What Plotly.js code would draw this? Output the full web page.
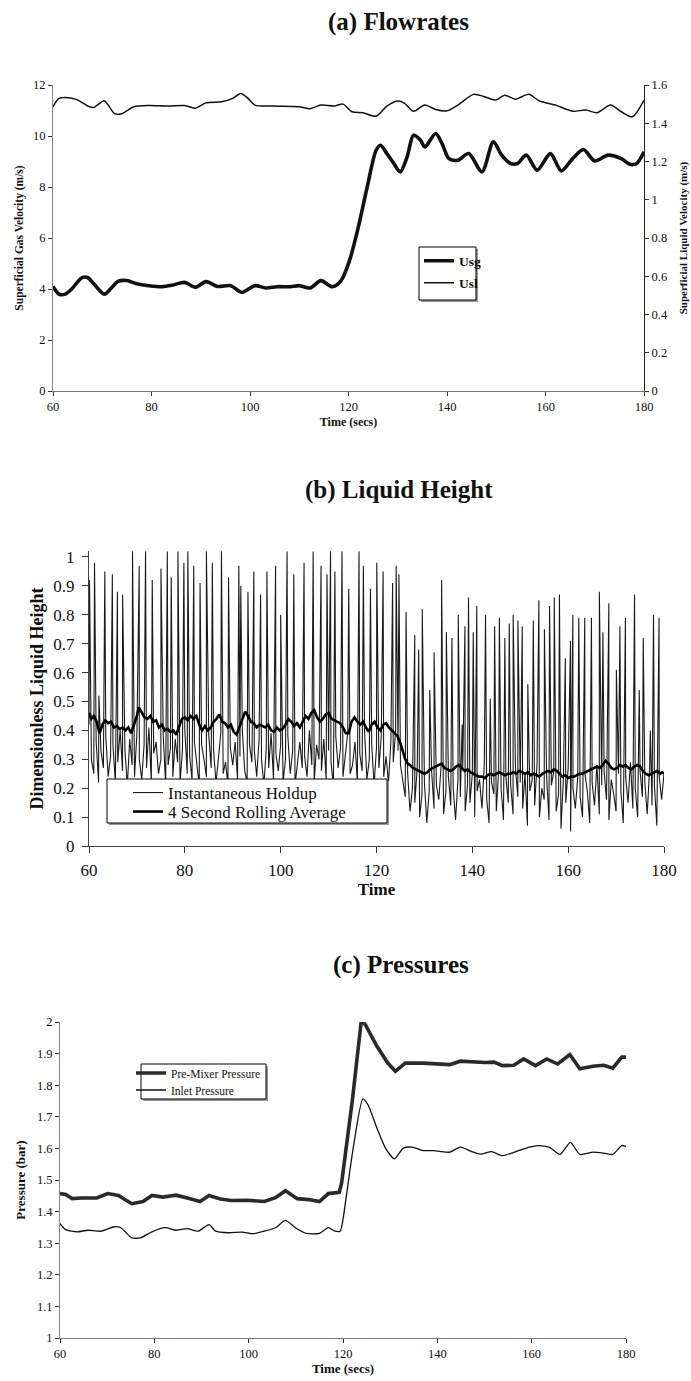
<!DOCTYPE html>
<html><head><meta charset="utf-8">
<script src="https://cdn.plot.ly/plotly-3.0.1.min.js"></script>
<style>html,body{margin:0;padding:0;background:#fff}#chart{width:691px;height:1381px}</style>
</head><body><div id="chart"></div>
<script>
// ---------- (a) Flowrates ----------
const usgTime = [60,61.2,62.5,63.8,65.9,67,68.3,70.4,71.9,73.2,75,76.8,79.5,82.2,84.4,86.7,88.9,91.1,93.4,96.1,98.3,101,103.2,105.5,108.2,110,112.2,114.4,116.7,118.5,120.2,122,123.8,125.6,126.5,127.8,129.2,130.5,131.9,133.2,134.6,135.5,137.7,139,140.4,142.2,144.4,147.1,149.4,151.1,152.9,154.3,156.1,158.3,161,163.2,165.5,167.7,170,172.7,175.4,177.1,178.5,180];
const usg = [4.1,3.8,3.8,4.0,4.45,4.45,4.2,3.8,4.05,4.3,4.33,4.22,4.13,4.09,4.16,4.26,4.07,4.29,4.1,4.13,3.87,4.13,4.04,4.09,4.09,4.13,4.04,4.33,4.09,4.33,5.11,6.43,8.0,9.44,9.64,9.31,8.92,8.59,9.18,10.03,9.84,9.57,10.1,9.7,9.11,9.05,9.31,8.59,9.77,9.25,8.92,8.92,9.25,8.66,9.31,8.63,9.11,9.47,9.02,9.25,9.11,8.89,8.92,9.38];
const uslTime = [60,61.2,62.5,64.7,67.4,68.3,70.4,71.2,72.5,74,76.4,79.5,83.5,86.7,88.9,91.1,94.2,96.5,98.1,99.6,101,104.6,110,112.2,114.4,117.1,118.9,120.7,122.9,125.6,127.8,130.1,131.4,133.2,135.5,137.7,140,142.2,145.4,147.6,149.9,151.7,153.9,156.6,158.8,162,165.5,168.2,170.5,173.2,175.4,177.6,180];
const usl = [1.486,1.53,1.535,1.525,1.486,1.483,1.518,1.495,1.45,1.45,1.486,1.493,1.49,1.493,1.479,1.507,1.512,1.53,1.556,1.53,1.495,1.49,1.486,1.476,1.495,1.49,1.5,1.46,1.455,1.437,1.49,1.516,1.504,1.463,1.495,1.472,1.465,1.495,1.551,1.539,1.521,1.547,1.526,1.551,1.516,1.495,1.463,1.469,1.455,1.495,1.46,1.434,1.521];

// ---------- (b) Liquid Height ----------
// instantaneous holdup: base signal sampled every 0.5 s from 60 s, plus slug spikes
const holdStart = 60, holdStep = 0.5;
const holdBase = [
0.42,0.30,0.25,0.36,0.22,0.33,0.27,0.38,0.24,0.31,
0.35,0.22,0.29,0.40,0.26,0.33,0.21,0.37,0.28,0.24,
0.39,0.30,0.23,0.35,0.27,0.41,0.22,0.32,0.36,0.25,
0.30,0.38,0.21,0.28,0.34,0.24,0.37,0.29,0.22,0.33,
0.40,0.25,0.31,0.23,0.36,0.28,0.21,0.35,0.30,0.24,
0.38,0.27,0.33,0.22,0.30,0.39,0.25,0.29,0.21,0.34,
0.28,0.36,0.23,0.31,0.40,0.26,0.22,0.35,0.29,0.33,
0.24,0.37,0.30,0.21,0.34,0.27,0.39,0.23,0.32,0.26,
0.35,0.22,0.30,0.38,0.25,0.33,0.21,0.29,0.36,0.27,
0.31,0.24,0.40,0.28,0.22,0.35,0.30,0.26,0.37,0.23,
0.33,0.29,0.21,0.38,0.27,0.34,0.24,0.31,0.39,0.25,
0.28,0.36,0.22,0.32,0.26,0.40,0.23,0.30,0.35,0.21,
0.34,0.27,0.38,0.24,0.31,0.22,0.36,0.29,0.40,0.33,
0.28,0.22,0.17,0.25,0.12,0.20,0.15,0.27,0.10,0.18,
0.22,0.08,0.19,0.26,0.13,0.21,0.16,0.28,0.11,0.19,
0.24,0.14,0.20,0.09,0.23,0.17,0.27,0.12,0.21,0.15,
0.25,0.10,0.19,0.23,0.13,0.28,0.16,0.08,0.22,0.18,
0.12,0.26,0.20,0.09,0.24,0.15,0.21,0.11,0.27,0.17,
0.22,0.13,0.25,0.07,0.19,0.23,0.14,0.28,0.10,0.20,
0.16,0.24,0.09,0.21,0.26,0.12,0.18,0.06,0.23,0.15,
0.27,0.05,0.20,0.13,0.24,0.17,0.10,0.25,0.19,0.08,
0.22,0.14,0.28,0.11,0.21,0.26,0.16,0.09,0.23,0.18,
0.12,0.25,0.19,0.08,0.24,0.15,0.29,0.13,0.20,0.10,
0.26,0.17,0.22,0.11,0.27,0.14,0.21,0.07,0.24,0.16,
0.25];
const spikeTime = [60.1,61.15,62.06,63.3,64.87,65.94,67.01,69.08,70.48,71.8,73.2,75.02,76.34,77.16,78.56,79.8,80.63,81.86,83.18,84.5,85.74,87.64,89.12,91.27,91.68,93.17,94.4,95.81,97.13,98.94,100.0,101.33,102.74,104.88,106.78,108.43,109.67,110.41,111.32,112.8,114.2,116.35,117.26,118.74,120.06,121.38,123.36,124.1,124.68,126.17,127.98,128.81,129.55,131.12,132.02,133.59,134.58,135.74,137.06,137.88,138.46,139.2,140.19,140.93,142.75,143.74,144.65,145.64,146.79,147.7,148.52,149.51,150.42,151.58,152.73,153.89,155.04,156.11,157.1,158.18,159.41,160.49,160.98,162.22,163.46,164.86,166.51,167.25,168.49,170.06,170.8,171.95,173.85,174.84,175.67,177.15,177.81,178.97];
const spikeHeight = [0.92,0.98,0.52,0.95,0.94,0.88,0.87,1.02,0.97,1.02,0.92,0.96,1.02,0.93,1.02,0.98,1.02,0.97,0.91,1.02,0.98,1.02,0.93,0.97,0.9,0.88,0.95,0.87,0.95,0.97,0.8,1.02,0.94,0.98,1.02,0.97,0.94,1.02,0.95,1.02,0.89,1.02,0.97,0.89,0.98,0.95,0.91,0.97,0.94,0.81,0.73,0.68,0.82,0.54,0.67,0.92,0.74,0.72,0.80,0.42,0.76,0.86,0.74,0.83,0.80,0.51,0.76,0.79,0.72,0.77,0.80,0.78,0.76,0.56,0.78,0.85,0.75,0.83,0.86,0.87,0.65,0.71,0.80,0.79,0.79,0.79,0.88,0.74,0.84,0.61,0.76,0.79,0.87,0.54,0.72,0.40,0.80,0.79];
const avgTime = [
60,60.5,61,61.6,62.2,62.8,63.4,64,64.6,65.2,
65.8,66.4,67,67.6,68.2,68.8,69.4,70,70.4,71,
71.6,72.2,72.8,73.4,74,74.6,75.2,75.8,76.4,77,
77.6,78.2,78.8,79.4,80,80.6,81.2,81.8,82.4,83,
83.6,84.2,84.8,85.4,86,86.6,87.2,87.8,88.4,89,
89.6,90.2,90.8,91.4,92,92.6,93.2,93.8,94.4,95,
95.6,96.2,96.8,97.4,98,98.6,99.2,99.8,100.4,101,
101.6,102.2,102.8,103.4,104,104.6,105.2,105.8,106.4,107,
107.6,108.2,108.8,109.4,110,110.6,111.2,111.8,112.4,113,
113.6,114.2,114.8,115.4,116,116.6,117.2,117.8,118.4,119,
119.6,120.2,120.8,121.4,122,122.6,123.2,123.8,124.4,125,
125.5,126,126.5,127,127.6,128.2,128.8,129.4,130,130.6,
131.2,131.8,132.4,133,133.6,134.2,134.8,135.4,136,136.6,
137.2,137.8,138.4,139,139.6,140.2,140.8,141.4,142,142.6,
143.2,143.8,144.4,145,145.6,146.2,146.8,147.4,148,148.6,
149.2,149.8,150.4,151,151.6,152.2,152.8,153.4,154,154.6,
155.2,155.8,156.4,157,157.6,158.2,158.8,159.4,160,160.6,
161.2,161.8,162.4,163,163.6,164.2,164.8,165.4,166,166.6,
167.2,167.8,168.4,169,169.6,170.2,170.8,171.4,172,172.6,
173.2,173.8,174.4,175,175.6,176.2,176.8,177.4,178,178.6,
179.2,179.6,180];
const avgHold = [
0.46,0.44,0.45,0.43,0.39,0.42,0.435,0.425,0.43,0.41,
0.415,0.405,0.41,0.40,0.41,0.39,0.42,0.45,0.48,0.46,
0.445,0.44,0.45,0.43,0.435,0.41,0.42,0.40,0.405,0.395,
0.40,0.385,0.41,0.44,0.445,0.435,0.45,0.44,0.45,0.42,
0.40,0.415,0.40,0.41,0.43,0.44,0.455,0.43,0.425,0.41,
0.42,0.395,0.385,0.41,0.44,0.465,0.45,0.43,0.425,0.41,
0.42,0.415,0.41,0.42,0.40,0.395,0.41,0.40,0.405,0.42,
0.44,0.43,0.415,0.425,0.41,0.43,0.45,0.44,0.46,0.47,
0.445,0.43,0.44,0.455,0.46,0.44,0.435,0.43,0.425,0.41,
0.39,0.39,0.43,0.445,0.43,0.42,0.43,0.41,0.395,0.42,
0.43,0.41,0.40,0.42,0.425,0.41,0.40,0.39,0.38,0.355,
0.33,0.30,0.285,0.28,0.27,0.265,0.26,0.255,0.25,0.255,
0.265,0.27,0.275,0.28,0.285,0.27,0.265,0.26,0.265,0.275,
0.28,0.27,0.26,0.265,0.255,0.25,0.245,0.24,0.24,0.235,
0.245,0.25,0.245,0.25,0.255,0.25,0.245,0.25,0.25,0.255,
0.25,0.26,0.255,0.25,0.255,0.245,0.25,0.245,0.24,0.25,
0.255,0.26,0.255,0.265,0.26,0.25,0.24,0.245,0.235,0.24,
0.24,0.245,0.25,0.25,0.255,0.26,0.265,0.27,0.275,0.27,
0.28,0.295,0.285,0.27,0.265,0.27,0.28,0.275,0.28,0.27,
0.265,0.275,0.28,0.275,0.26,0.25,0.245,0.25,0.255,0.26,
0.25,0.255,0.25];

// ---------- (c) Pressures ----------
const preTime = [60,61.2,62.6,64.5,67.8,70.1,72.4,75.2,77.6,79.5,81.8,84.6,87,89.7,91.6,94,96.3,99.6,103.3,105.7,107.8,110.3,112.7,115,116.9,119.2,119.7,122,123.9,124.8,127.2,129.5,131.1,133.2,137,140.7,142.6,144.9,147.7,150.1,152,153.8,156.2,158.3,160.8,163.2,165.5,168.1,170.2,173,175.3,177.2,179.1,180];
const prePressure = [1.457,1.454,1.441,1.443,1.443,1.457,1.451,1.425,1.432,1.451,1.446,1.452,1.443,1.432,1.451,1.44,1.435,1.436,1.432,1.444,1.466,1.441,1.438,1.432,1.457,1.461,1.49,1.754,2.007,1.99,1.923,1.87,1.844,1.87,1.87,1.865,1.865,1.876,1.873,1.872,1.873,1.862,1.863,1.883,1.862,1.883,1.867,1.897,1.852,1.86,1.863,1.854,1.889,1.889];
const inletTime = [60,61.2,63.6,65.9,68.7,71.5,72.9,75.2,77.1,79.5,82.3,84.6,87,89.3,91.6,93,95.8,98.6,101,103.3,105.7,107.8,109.9,112.2,115,116.9,118.3,119.4,120.6,122,124.2,125.3,127.2,129,130.9,132.8,134.6,137,139.3,140.7,142.6,144.9,147.3,149.2,151.5,153.8,156.7,159.5,161.3,163.7,166,168.2,170.2,173,175.3,177.2,179.1,180];
const inletPressure = [1.362,1.343,1.336,1.341,1.338,1.352,1.349,1.317,1.317,1.336,1.349,1.341,1.346,1.338,1.359,1.338,1.333,1.335,1.33,1.338,1.349,1.372,1.349,1.331,1.331,1.349,1.338,1.338,1.438,1.585,1.757,1.738,1.664,1.601,1.567,1.601,1.604,1.593,1.593,1.59,1.588,1.604,1.59,1.582,1.59,1.577,1.59,1.604,1.609,1.604,1.581,1.619,1.581,1.588,1.585,1.581,1.609,1.606];

// build instantaneous series from base samples and spikes (sorted by time)
const holdPts = holdBase.map((v, i) => [holdStart + holdStep * i, v]);
spikeTime.forEach((t, i) => holdPts.push([t, spikeHeight[i]]));
holdPts.sort((a, b) => a[0] - b[0]);
const holdT = holdPts.map(p => p[0]), holdV = holdPts.map(p => p[1]);

const W = 691, H = 1381;
const px = v => v / W, py = v => 1 - v / H;
const SERIF = "'Liberation Serif', 'Times New Roman', Times, serif";
const ink = '#111';

const traces = [
  {x: usgTime, y: usg, name: 'Usg', type: 'scatter', mode: 'lines', xaxis: 'x', yaxis: 'y',
   line: {color: ink, width: 3.6, shape: 'spline', smoothing: 0.8}, legend: 'legend'},
  {x: uslTime, y: usl, name: 'Usl', type: 'scatter', mode: 'lines', xaxis: 'x', yaxis: 'y4',
   line: {color: ink, width: 1.5, shape: 'spline', smoothing: 0.8}, legend: 'legend2'},
  {x: holdT, y: holdV, name: 'Instantaneous Holdup', type: 'scatter', mode: 'lines', xaxis: 'x2', yaxis: 'y2',
   line: {color: '#1a1a1a', width: 1.1}, legend: 'legend3'},
  {x: avgTime, y: avgHold, name: '4 Second Rolling Average', type: 'scatter', mode: 'lines', xaxis: 'x2', yaxis: 'y2',
   line: {color: '#000', width: 2.6}, legend: 'legend4'},
  {x: preTime, y: prePressure, name: 'Pre-Mixer Pressure', type: 'scatter', mode: 'lines', xaxis: 'x3', yaxis: 'y3',
   line: {color: '#2a2a2a', width: 3.6}, legend: 'legend5'},
  {x: inletTime, y: inletPressure, name: 'Inlet Pressure', type: 'scatter', mode: 'lines', xaxis: 'x3', yaxis: 'y3',
   line: {color: ink, width: 1.3, shape: 'spline', smoothing: 0.6}, legend: 'legend6'}
];

const tf = s => ({family: SERIF, size: s, color: ink});
const baseAxis = {showgrid: false, zeroline: false, showline: true, ticks: 'outside', color: ink};

// legend frames (white boxes with thin shadow); one-entry legends placed inside them
const boxes = [[419, 247, 476, 300], [107, 779, 387, 823], [141, 1064, 266, 1099]];
const shapes = [];
boxes.forEach(b => {
  shapes.push({type: 'rect', xref: 'paper', yref: 'paper', layer: 'above', x0: px(b[0] + 2), x1: px(b[2] + 2), y0: py(b[1] + 2), y1: py(b[3] + 2),
    fillcolor: '#9a9a9a', line: {width: 0}});
  shapes.push({type: 'rect', xref: 'paper', yref: 'paper', layer: 'above', x0: px(b[0]), x1: px(b[2]), y0: py(b[1]), y1: py(b[3]),
    fillcolor: '#fff', line: {color: '#000', width: 1}});
});
const leg = (x, y, font) => ({x: px(x), y: py(y), xanchor: 'left', yanchor: 'middle', bgcolor: 'rgba(0,0,0,0)',
  borderwidth: 0, font: font, itemwidth: 30});

const layout = {
  width: W, height: H, margin: {l: 0, r: 0, t: 0, b: 0},
  paper_bgcolor: '#fff', plot_bgcolor: '#fff', font: {family: SERIF, color: ink},
  showlegend: true,
  shapes: shapes,
  xaxis: Object.assign({}, baseAxis, {domain: [px(53), px(644)], anchor: 'y', range: [60, 180], dtick: 20,
    linecolor: '#777', ticklen: 4, tickcolor: '#333', tickfont: tf(12.5),
    title: {text: '<b>Time (secs)</b>', font: tf(12), standoff: 4}}),
  yaxis: Object.assign({}, baseAxis, {domain: [py(391), py(85)], anchor: 'x', range: [0, 12], dtick: 2,
    linecolor: '#888', ticklen: 4, tickcolor: '#333', tickfont: tf(12.5),
    title: {text: '<b>Superficial Gas Velocity (m/s)</b>', font: tf(11.5), standoff: 6}}),
  yaxis4: Object.assign({}, baseAxis, {overlaying: 'y', side: 'right', anchor: 'x', range: [0, 1.6], dtick: 0.2,
    linecolor: '#222', ticklen: 4, tickcolor: '#333', tickfont: tf(12.5),
    title: {text: '<b>Superficial Liquid Velocity (m/s)</b>', font: tf(11), standoff: 12}}),
  xaxis2: Object.assign({}, baseAxis, {domain: [px(89), px(664)], anchor: 'y2', range: [60, 180], dtick: 20,
    linecolor: '#444', ticklen: 6, tickcolor: '#333', tickfont: tf(17), ticklabelstandoff: 3,
    title: {text: '<b>Time</b>', font: tf(17), standoff: 0}}),
  yaxis2: Object.assign({}, baseAxis, {domain: [py(846), py(551.2)], anchor: 'x2', range: [0, 1.02],
    tickvals: [0,0.1,0.2,0.3,0.4,0.5,0.6,0.7,0.8,0.9,1], ticktext: ['0','0.1','0.2','0.3','0.4','0.5','0.6','0.7','0.8','0.9','1'],
    linecolor: '#444', ticklen: 6, tickcolor: '#333', tickfont: tf(17), ticklabelstandoff: 4,
    title: {text: '<b>Dimensionless Liquid Height</b>', font: tf(18), standoff: 5}}),
  xaxis3: Object.assign({}, baseAxis, {domain: [px(60), px(626)], anchor: 'y3', range: [60, 180], dtick: 20,
    linecolor: '#777', ticklen: 4, tickcolor: '#333', tickfont: tf(12.5),
    title: {text: '<b>Time (secs)</b>', font: tf(13), standoff: 0}}),
  yaxis3: Object.assign({}, baseAxis, {domain: [py(1338), py(1022)], anchor: 'x3', range: [1, 2], dtick: 0.1,
    linecolor: '#888', ticklen: 4, tickcolor: '#333', tickfont: tf(12.5),
    title: {text: '<b>Pressure (bar)</b>', font: tf(13), standoff: 8}}),
  legend: leg(419, 261, Object.assign(tf(13.5), {weight: 'bold'})),
  legend2: leg(419, 283, Object.assign(tf(13.5), {weight: 'bold'})),
  legend3: leg(128, 793, tf(17)),
  legend4: leg(128, 812, tf(17)),
  legend5: leg(131, 1073, tf(11.5)),
  legend6: leg(131, 1090, tf(11.5)),
  annotations: [
    {text: '<b>(a) Flowrates</b>', xref: 'paper', yref: 'paper', x: px(398), y: py(22), showarrow: false,
     font: tf(25), xanchor: 'center', yanchor: 'middle'},
    {text: '<b>(b) Liquid Height</b>', xref: 'paper', yref: 'paper', x: px(399), y: py(490), showarrow: false,
     font: tf(25), xanchor: 'center', yanchor: 'middle'},
    {text: '<b>(c) Pressures</b>', xref: 'paper', yref: 'paper', x: px(401), y: py(965), showarrow: false,
     font: tf(25), xanchor: 'center', yanchor: 'middle'}
  ]
};

Plotly.newPlot('chart', traces, layout, {staticPlot: true, displayModeBar: false});
</script></body></html>
